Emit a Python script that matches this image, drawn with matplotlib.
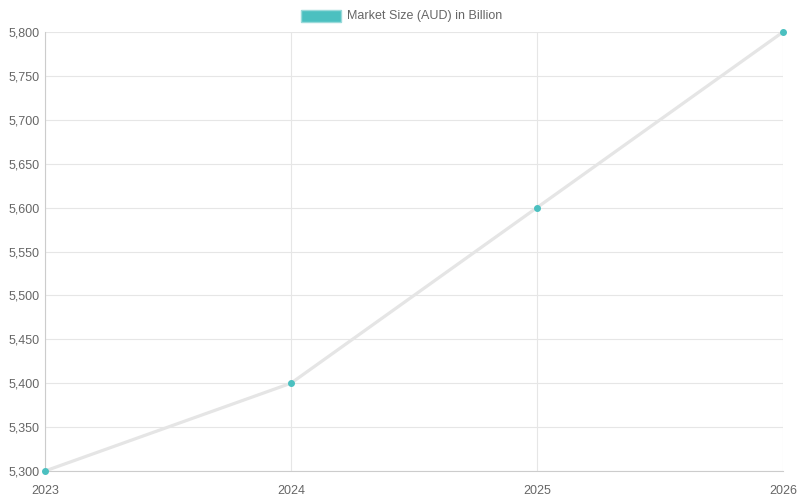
import matplotlib
matplotlib.use("Agg")
import matplotlib.pyplot as plt
from matplotlib.patches import Rectangle

# data
years = ["2023", "2024", "2025", "2026"]
market_size = [5300, 5400, 5600, 5800]
y_ticks = list(range(5300, 5801, 50))
series_label = "Market Size (AUD) in Billion"

plt.rcParams['font.family'] = ['Liberation Sans', 'DejaVu Sans']

fig = plt.figure(figsize=(8, 5), dpi=100)
ax = fig.add_axes([45/800, 29/500, 738/800, 439/500])

x = list(range(len(years)))
ax.plot(x, market_size, color='#e5e5e5', lw=2.3, zorder=2, solid_capstyle='round')
ax.scatter(x, market_size, s=16, color='#4bc0c0', edgecolors='#4bc0c0', zorder=3, clip_on=False)

ax.set_xlim(0, len(years) - 1)
ax.set_ylim(5300, 5800)
ax.set_xticks(x)
ax.set_xticklabels(years)
ax.set_yticks(y_ticks)
ax.set_yticklabels([f"{v:,}" for v in y_ticks])

ax.grid(True, color='#e6e6e6', lw=0.8, zorder=0)
ax.set_axisbelow(True)
for s in ['top', 'right']:
    ax.spines[s].set_visible(False)
for s in ['left', 'bottom']:
    ax.spines[s].set_color('#cccccc')
    ax.spines[s].set_linewidth(0.8)
ax.tick_params(axis='both', colors='#666666', labelsize=9, length=0, pad=4)
ax.tick_params(axis='x', pad=10)

# legend drawn like chart.js
fig.patches.append(Rectangle((301/800, 1 - 22/500), 40/800, 12/500, transform=fig.transFigure,
                             facecolor='#4bc0c0', edgecolor='#9adada', lw=1))
fig.text(347/800, 1 - 16/500, series_label, color='#666666', fontsize=9, va='center', ha='left')

fig.savefig("out.png", dpi=100)
